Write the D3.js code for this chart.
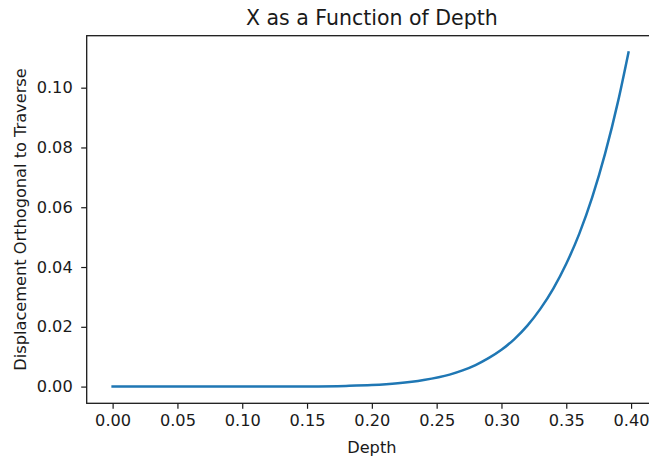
<!DOCTYPE html>
<html>
<head>
<meta charset="utf-8">
<script src="https://cdn.jsdelivr.net/npm/d3@7"></script>
<style>
  body { margin: 0; background: #fff; overflow: hidden; }
  text { font-family: "DejaVu Sans", sans-serif; fill: #1a1a1a; }
</style>
</head>
<body>
<div id="chart"></div>
<script>
//depth values along the traverse and the displacement
var depth = [0, 0.05, 0.10, 0.15, 0.18, 0.20, 0.22, 0.24, 0.26, 0.27, 0.28, 0.29, 0.30, 0.31, 0.32, 0.33, 0.34, 0.35, 0.36, 0.37, 0.38, 0.39, 0.398];
var displacement = [0, 0, 0, 0.00006, 0.00023, 0.0005, 0.0011, 0.0022, 0.0040, 0.0054, 0.0072, 0.0095, 0.0123, 0.0159, 0.0204, 0.0260, 0.0328, 0.0411, 0.0511, 0.0633, 0.0780, 0.0955, 0.1118];
var xTicks = [0, 0.05, 0.10, 0.15, 0.20, 0.25, 0.30, 0.35, 0.40];
var yTicks = [0, 0.02, 0.04, 0.06, 0.08, 0.10];

(function() {
  var width = 649,
      height = 459;

  //the axes box, right edge runs past the window like in the picture
  var left = 86.7,
      right = 657,
      top = 35.7,
      bottom = 403.3;

  var svg = d3.select("#chart")
    .append("svg")
    .attr("width", width)
    .attr("height", height)

  var points = depth.map(function(d, i) {
    return { x: d, y: displacement[i] }
  })

  //matplotlib style 5% margins around the data
  var yExt = d3.extent(displacement);
  var yPad = (yExt[1] - yExt[0]) * 0.05;

  var x = d3.scaleLinear().domain([-0.02, 0.42]).range([left, right])
  var y = d3.scaleLinear().domain([yExt[0] - yPad, yExt[1] + yPad]).range([bottom, top])

  var line = d3.line()
    .x(function(d) { return x(d.x) })
    .y(function(d) { return y(d.y) })
    .curve(d3.curveMonotoneX)

  svg.append("path")
    .datum(points)
    .attr("d", line)
    .attr("fill", "none")
    .attr("stroke", "#1f77b4")
    .attr("stroke-width", 2.5)
    .attr("stroke-linecap", "square")

  //axes
  var xAxis = d3.axisBottom(x).tickValues(xTicks).tickFormat(d3.format(".2f")).tickSize(5.5).tickPadding(5.5)
  var yAxis = d3.axisLeft(y).tickValues(yTicks).tickFormat(d3.format(".2f")).tickSize(5.5).tickPadding(8.5)

  var gx = svg.append("g")
    .attr("transform", "translate(0," + bottom + ")")
    .call(xAxis)
  var gy = svg.append("g")
    .attr("transform", "translate(" + left + ",0)")
    .call(yAxis)

  ;[gx, gy].forEach(function(g) {
    g.select(".domain").remove()
    g.selectAll("line").attr("stroke", "#1a1a1a").attr("stroke-width", 1.2)
    g.selectAll("text").attr("font-size", 16.2).attr("font-family", "DejaVu Sans").attr("fill", "#1a1a1a")
  })

  //the frame
  svg.append("rect")
    .attr("x", left)
    .attr("y", top)
    .attr("width", right - left)
    .attr("height", bottom - top)
    .attr("fill", "none")
    .attr("stroke", "#1a1a1a")
    .attr("stroke-width", 1.3)

  svg.append("text")
    .attr("x", (left + right) / 2)
    .attr("y", 25)
    .attr("text-anchor", "middle")
    .attr("font-size", 20.5)
    .text("X as a Function of Depth")

  svg.append("text")
    .attr("x", (left + right) / 2)
    .attr("y", 453)
    .attr("text-anchor", "middle")
    .attr("font-size", 16.2)
    .text("Depth")

  svg.append("text")
    .attr("transform", "translate(26," + (top + bottom) / 2 + ") rotate(-90)")
    .attr("text-anchor", "middle")
    .attr("font-size", 16.2)
    .text("Displacement Orthogonal to Traverse")
})();
</script>
</body>
</html>
